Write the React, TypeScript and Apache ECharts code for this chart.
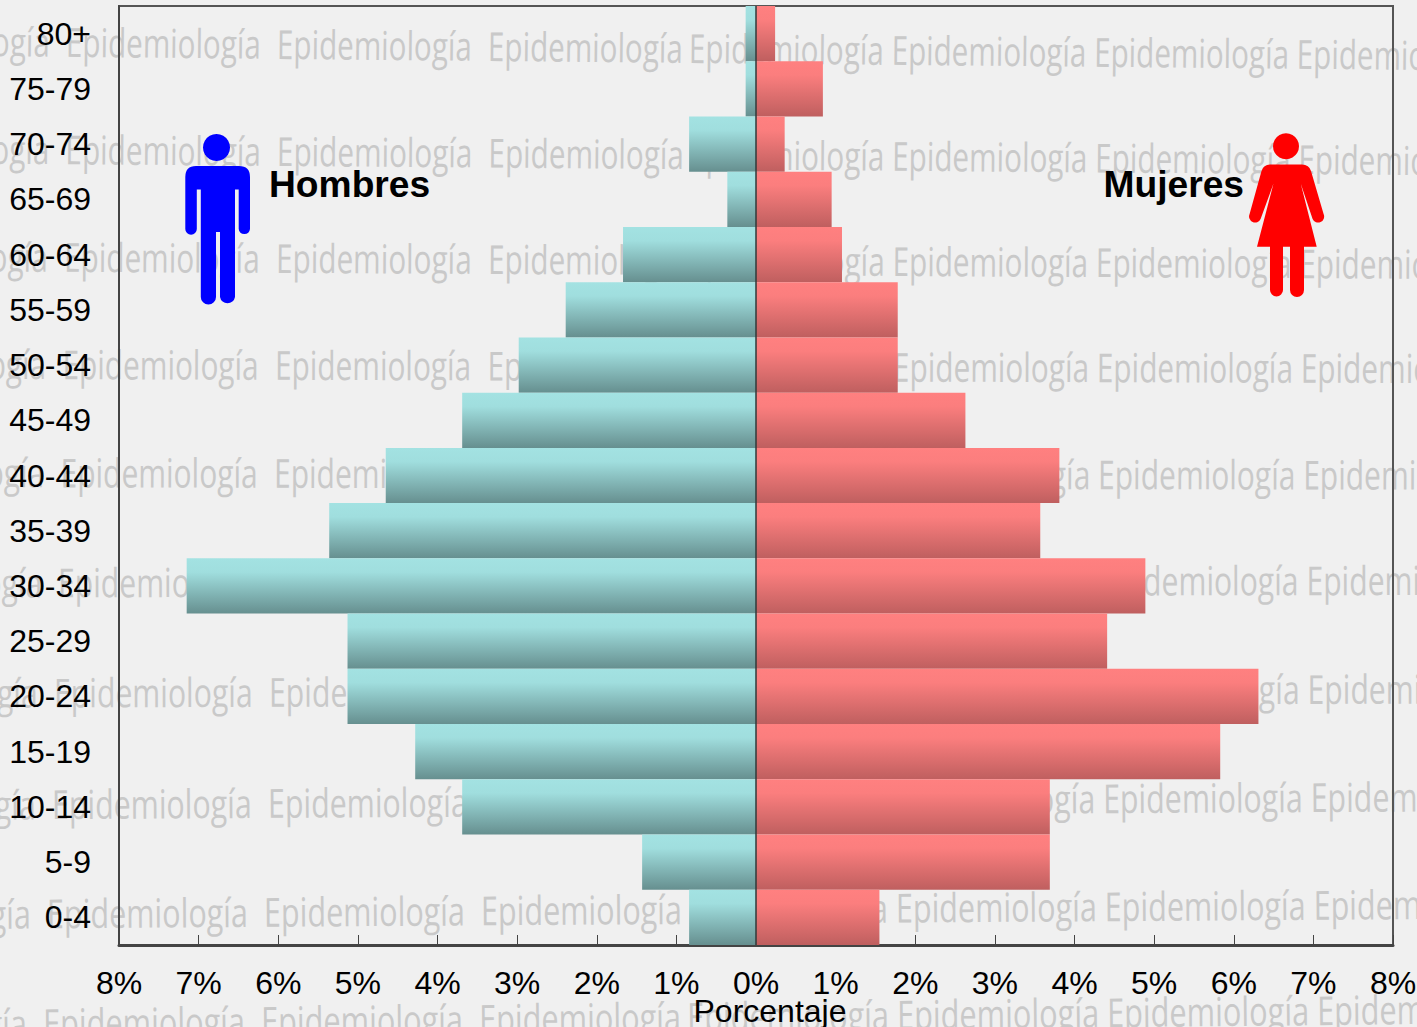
import React, { useEffect, useRef } from "react";
import * as echarts from "echarts";

const categories = ["80+","75-79","70-74","65-69","60-64","55-59","50-54","45-49","40-44","35-39","30-34","25-29","20-24","15-19","10-14","5-9","0-4"];
const hombres = [0.13,0.13,0.84,0.36,1.67,2.39,2.98,3.69,4.65,5.36,7.15,5.13,5.13,4.28,3.69,1.43,0.84];
const mujeres = [0.24,0.84,0.36,0.95,1.08,1.78,1.78,2.63,3.81,3.57,4.89,4.41,6.31,5.83,3.69,3.69,1.55];

const WATERMARK_WORD = "Epidemiología";
const wmLeftY = [43,150,257,364,472,581,691,802,911,1020];
const wmRightY = [53,158,262,367,474,579,688,796,904,1010];
const wmStart = [277,277,276,275,274,272,269,268,264,261];
const wmLeftPitch = [211,211.5,212,212.5,213.5,214,215,216,217,218];
const wmRightStart = [689,689,689,689,688,688,688,688,687,687];
const wmRightPitch = [203.5,204,204.5,205,206,207,207.5,208.5,210,211];

const FONT = "'Liberation Sans', Arial, sans-serif";

const manPath =
  "M196 166 H239 Q250 166 250 177 V229 A5.7 5.7 0 0 1 238.7 229 V189.5 H235 V297 A7.6 7.6 0 0 1 220 297 V232 H216 V297 A7.6 7.6 0 0 1 200.8 297 V189.5 H196.8 V229 A5.7 5.7 0 0 1 185.3 229 V177 Q185.3 166 196 166 Z";
const womanPath =
  "M1270 164.5 H1302 Q1309 164.5 1311 171 L1323.6 214 A5.8 5.8 0 0 1 1312.6 219 L1300.7 183.5 L1316.7 246.7 H1304 V290 A7 7 0 0 1 1290 290 V246.7 H1283 V290 A6.5 6.5 0 0 1 1270 290 V246.7 H1257 L1273.5 183.5 L1260.6 219 A5.8 5.8 0 0 1 1249.6 214 L1261.5 171 Q1263.5 164.5 1270 164.5 Z";

echarts.graphic.registerShape("hombreFig", echarts.graphic.extendPath(manPath, {}));
echarts.graphic.registerShape("mujerFig", echarts.graphic.extendPath(womanPath, {}));

const grad = (a: string, b: string, c: string) =>
  new echarts.graphic.LinearGradient(0, 0, 0, 1, [
    { offset: 0, color: a },
    { offset: 0.25, color: b },
    { offset: 1, color: c },
  ]);

const chunk = (x0: number, pitch: number, words: number, yl: number, slope: number) => ({
  type: "text",
  z: -10,
  silent: true,
  x: x0,
  y: yl + slope * (x0 - 276),
  rotation: -Math.atan(slope),
  scaleX: pitch / 274.7,
  scaleY: 1,
  style: {
    text: Array(words).fill(WATERMARK_WORD).join(" "),
    font: "40px 'Open Sans'",
    fill: "#c9c9c9",
    textAlign: "left",
    textVerticalAlign: "middle",
  },
});

export default function App() {
  const ref = useRef<HTMLDivElement>(null);
  useEffect(() => {
    document.body.style.margin = "0";
    const chart = echarts.init(ref.current!, null, { renderer: "svg" });
    const watermark = wmLeftY.flatMap((yl, i) => {
      const slope = (wmRightY[i] - yl) / 1024;
      return [
        chunk(wmStart[i] - 2 * wmLeftPitch[i], wmRightPitch[i], 1, yl, slope),
        chunk(wmStart[i] - wmLeftPitch[i], wmRightPitch[i], 1, yl, slope),
        chunk(wmStart[i], wmRightPitch[i], 1, yl, slope),
        chunk(wmStart[i] + wmLeftPitch[i], wmRightPitch[i], 1, yl, slope),
        chunk(wmRightStart[i], wmRightPitch[i], 4, yl, slope),
      ];
    });
    chart.setOption({
      animation: false,
      backgroundColor: "#f0f0f0",
      textStyle: { fontFamily: FONT },
      grid: { left: 119, right: 24, top: 6, bottom: 82, outerBoundsMode: "none", show: true, borderColor: "#555", borderWidth: 2, backgroundColor: "transparent" },
      xAxis: {
        type: "value",
        min: -8,
        max: 8,
        interval: 1,
        splitLine: { show: false },
        axisLine: { show: true, onZero: false, lineStyle: { color: "#444", width: 3 } },
        axisTick: { show: true, inside: true, length: 10, lineStyle: { color: "#444", width: 1 } },
        axisLabel: {
          color: "#000",
          fontSize: 32,
          fontFamily: FONT,
          margin: 22,
          showMinLabel: true,
          showMaxLabel: true,
          hideOverlap: false,
          formatter: (v: number) => `${Math.abs(v)}%`,
        },
        name: "Porcentaje",
        nameLocation: "middle",
        nameGap: 50,
        nameMoveOverlap: false,
        nameTextStyle: { color: "#000", fontSize: 32, fontFamily: FONT, padding: [0, 0, 0, 28] },
      },
      yAxis: {
        type: "category",
        data: categories,
        inverse: true,
        axisLine: { show: true, onZero: false, lineStyle: { color: "#444", width: 2 } },
        axisTick: { show: false },
        splitLine: { show: false },
        axisLabel: { color: "#000", fontSize: 32, fontFamily: FONT, margin: 28, interval: 0 },
      },
      graphic: [
        ...watermark,
        { type: "hombreFig", z: 20, x: 0, y: 0, style: { fill: "#0000ff" } },
        { type: "circle", z: 20, shape: { cx: 216.5, cy: 147.5, r: 13.5 }, style: { fill: "#0000ff" } },
        { type: "mujerFig", z: 20, x: 0, y: 0, style: { fill: "#ff0000" } },
        { type: "circle", z: 20, shape: { cx: 1286, cy: 146.3, r: 13 }, style: { fill: "#ff0000" } },
        { type: "text", z: 20, x: 269, y: 184, style: { text: "Hombres", font: `bold 37.2px ${FONT}`, fill: "#000", textAlign: "left", textVerticalAlign: "middle" } },
        { type: "text", z: 20, x: 1244, y: 184, style: { text: "Mujeres", font: `bold 37.2px ${FONT}`, fill: "#000", textAlign: "right", textVerticalAlign: "middle" } },
      ],
      series: [
        {
          name: "Hombres",
          type: "bar",
          data: hombres.map((v) => -v),
          barCategoryGap: 0,
          barGap: "-100%",
          itemStyle: { color: grad("#a3e2e2", "#a0dede", "#668f8f") },
        },
        {
          name: "Mujeres",
          type: "bar",
          data: mujeres,
          barCategoryGap: 0,
          barGap: "-100%",
          itemStyle: { color: grad("#ff8080", "#fb7e7e", "#bf5f5f") },
          markLine: {
            silent: true,
            symbol: "none",
            label: { show: false },
            z: 5,
            lineStyle: { color: "#2f3a3a", width: 1.5, type: "solid" },
            data: [{ xAxis: 0 }],
          },
        },
      ],
    });
    return () => chart.dispose();
  }, []);
  return <div ref={ref} style={{ width: 1417, height: 1027 }} />;
}
